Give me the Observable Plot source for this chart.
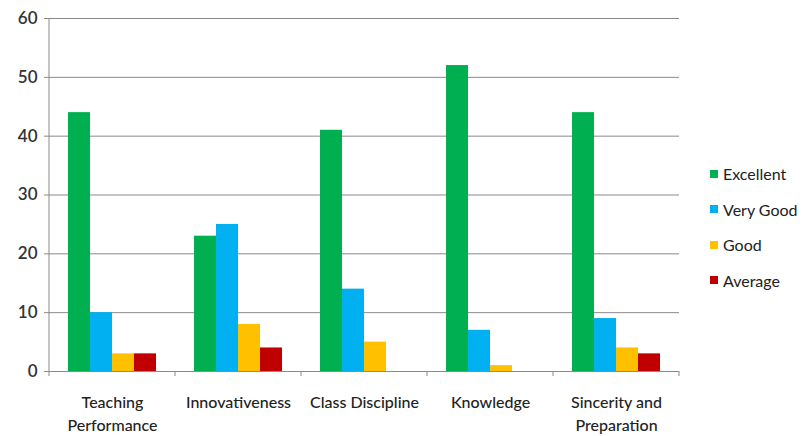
<!DOCTYPE html>
<html><head><meta charset="utf-8">
<script src="https://cdn.jsdelivr.net/npm/d3@7"></script>
<script src="https://cdn.jsdelivr.net/npm/@observablehq/plot@0.6"></script>
<style>
body{margin:0;background:#fff;font-family:Lato,"Open Sans",sans-serif;}
#wrap{position:relative;width:810px;height:436px;}
#legend{position:absolute;left:710px;top:156px;font-size:16px;color:#222;}
.item{height:35.5px;display:flex;align-items:center;}
.sw{width:8px;height:8px;margin-right:5px;}
</style></head>
<body><div id="wrap"><div id="chart"></div><div id="legend"></div></div>
<script>
const categories = ["Teaching Performance","Innovativeness","Class Discipline","Knowledge","Sincerity and Preparation"];
const categoryLabels = ["Teaching\nPerformance","Innovativeness","Class Discipline","Knowledge","Sincerity and\nPreparation"];
const series = ["Excellent","Very Good","Good","Average"];
const colors = ["#00b050","#00b0f0","#ffc000","#c00000"];
const excellent = [44,23,41,52,44];
const veryGood = [10,25,14,7,9];
const good = [3,8,5,1,4];
const average = [3,4,0,0,3];
const yTicks = [0,10,20,30,40,50,60];

const values = [excellent, veryGood, good, average];
const data = [];
categories.forEach((c,i)=>series.forEach((s,j)=>data.push({category:c, series:s, value:values[j][i]})));
const labelOf = new Map(categories.map((c,i)=>[c,categoryLabels[i]]));

const plot = Plot.plot({
  width: 700, height: 436,
  marginLeft: 48, marginRight: 20, marginTop: 18, marginBottom: 65,
  style: {fontFamily: "Lato, sans-serif", fontSize: "16px", color: "#222", background: "#fff"},
  fx: {domain: categories, padding: 0, label: null},
  x: {domain: series, paddingInner: 0, paddingOuter: 0.75, axis: null},
  y: {domain: [0,60], label: null},
  color: {domain: series, range: colors},
  marks: [
    Plot.gridY(yTicks, {stroke: "#8a8a8a", strokeOpacity: 1, strokeWidth: 1}),
    Plot.barY(data, {fx: "category", x: "series", y: "value", fill: "series", inset: 0}),
    Plot.ruleY([0], {stroke: "#8a8a8a", strokeWidth: 1.2}),
    Plot.axisY(yTicks, {tickSize: 5, tickPadding: 7, stroke: "#8a8a8a", fill: "#333", fontSize: 17, fontWeight: 600, label: null}),
    Plot.axisFx({anchor: "bottom", tickSize: 0, tickPadding: 21, lineHeight: 1.4, fontSize: 16, fontWeight: 500, fill: "#222", tickFormat: d => labelOf.get(d), label: null})
  ]
});
document.getElementById("chart").appendChild(plot);

// axis lines and category boundary ticks
const svg = d3.select(plot);
const fx = plot.scale("fx"), y = plot.scale("y");
const bounds = categories.map(c => fx.apply(c)).concat([fx.apply(categories[categories.length-1]) + fx.bandwidth]);
svg.append("line").attr("x1", bounds[0]).attr("x2", bounds[0]).attr("y1", y.apply(60)).attr("y2", y.apply(0)).attr("stroke","#8a8a8a");
bounds.forEach(b => svg.append("line").attr("x1", b).attr("x2", b).attr("y1", y.apply(0)).attr("y2", y.apply(0)+5).attr("stroke","#8a8a8a"));

const legend = d3.select("#legend");
series.forEach((s,i)=>{
  const it = legend.append("div").attr("class","item");
  it.append("div").attr("class","sw").style("background", colors[i]);
  it.append("span").text(s);
});
</script></body></html>
